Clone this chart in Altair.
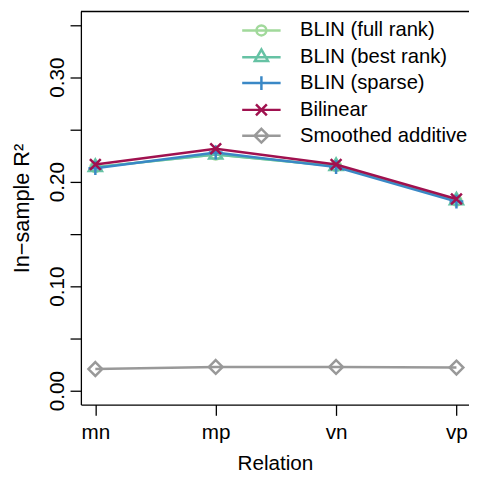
import altair as alt
import pandas as pd

# ---- data ----
relations = ["mn", "mp", "vn", "vp"]
series_names = ["BLIN (full rank)", "BLIN (best rank)", "BLIN (sparse)",
                "Bilinear", "Smoothed additive"]
full_rank = [0.214, 0.226, 0.215, 0.182]
best_rank = [0.214, 0.226, 0.215, 0.182]
sparse = [0.213, 0.228, 0.214, 0.181]
bilinear = [0.2165, 0.2315, 0.2165, 0.1835]
smoothed = [0.0208, 0.0228, 0.0228, 0.0222]
values = [full_rank, best_rank, sparse, bilinear, smoothed]

colors = ["#a1d99b", "#66c2a4", "#3a88c6", "#a0114f", "#999999"]
y_ticks = [0.0, 0.05, 0.10, 0.15, 0.20, 0.25, 0.30, 0.35]

# marker paths (pixel units with size=4)
marker_paths = [
    "M5,0 A5,5 0 1,1 -5,0 A5,5 0 1,1 5,0",
    "M-6.7,3.9 L6.7,3.9 L0,-7.8 Z",
    "M-7,0 L7,0 M0,-7 L0,7",
    "M-5.5,-5.5 L5.5,5.5 M-5.5,5.5 L5.5,-5.5",
    "M0,-7 L7,0 L0,7 L-7,0 Z",
]
legend_line = "M-19.5,0 L19.5,0 "
legend_paths = [legend_line + p for p in marker_paths]

rows = []
for name, vals in zip(series_names, values):
    for i, (rel, v) in enumerate(zip(relations, vals)):
        rows.append({"series": name, "idx": i + 1, "relation": rel, "value": v})
df = pd.DataFrame(rows)

W, H = 394, 399
FONT = "Liberation Sans"
LW = 2.5

x_enc = alt.X("idx:Q",
              scale=alt.Scale(domain=[0.88, 4.1043], nice=False, zero=False),
              axis=alt.Axis(values=[1, 2, 3, 4],
                            labelExpr="['mn','mp','vn','vp'][datum.value-1]",
                            title="Relation"))
y_enc = alt.Y("value:Q",
              scale=alt.Scale(domain=[-0.0132, 0.3629], nice=False, zero=False),
              axis=alt.Axis(values=y_ticks,
                            labelExpr="abs(datum.value*10 - round(datum.value*10)) < 0.001 ? format(datum.value, '.2f') : ''",
                            title="In\u2212sample R\u00b2",
                            labelAngle=270, labelAlign="center", labelBaseline="alphabetic"))

layers = []
for name, col, path in zip(series_names, colors, marker_paths):
    base = alt.Chart(df).transform_filter(alt.datum.series == name)
    layers.append(base.mark_line(color=col, strokeWidth=LW).encode(x=x_enc, y=y_enc))
    layers.append(base.mark_point(shape=path, size=4, filled=False, color=col,
                                  strokeWidth=LW, opacity=1).encode(x=x_enc, y=y_enc))

legend_layer = alt.Chart(df).transform_filter("datum.value < -1").mark_point(
    filled=False, strokeWidth=LW, size=4, opacity=1).encode(
    x=x_enc, y=y_enc,
    color=alt.Color("series:N", scale=alt.Scale(domain=series_names, range=colors),
                    legend=alt.Legend(title=None, orient="none", legendX=173, legendY=9)),
    shape=alt.Shape("series:N", scale=alt.Scale(domain=series_names, range=legend_paths),
                    legend=alt.Legend(title=None, orient="none", legendX=173, legendY=9)),
)

top_line = alt.Chart(pd.DataFrame({"a": [0]})).mark_rule(color="black", strokeWidth=1.3).encode(
    x=alt.value(0), x2=alt.value(W), y=alt.value(0))

chart = alt.layer(*layers, legend_layer, top_line).properties(
    width=W, height=H,
    autosize=alt.AutoSizeParams(type="none"),
    padding={"left": 74, "top": 0, "right": 0, "bottom": 70},
).configure_view(stroke=None).configure_axis(
    grid=False, domainColor="black", domainWidth=1.3, tickColor="black", tickSize=11,
    tickWidth=1.3, labelFont=FONT, labelFontSize=21, labelColor="black",
    titleFont=FONT, titleFontSize=21, titleFontWeight="normal", titleColor="black",
).configure_axisX(labelPadding=6, titlePadding=11).configure_axisY(
    labelPadding=7, titlePadding=13, titleFontSize=22
).configure_legend(
    labelFont=FONT, labelFontSize=20.5, labelColor="black", symbolSize=4,
    symbolStrokeWidth=LW, symbolOpacity=1, labelOffset=29, rowPadding=3.2, padding=0,
    labelLimit=300,
)

chart.save("out.html", embed_options={"renderer": "svg", "actions": False})
